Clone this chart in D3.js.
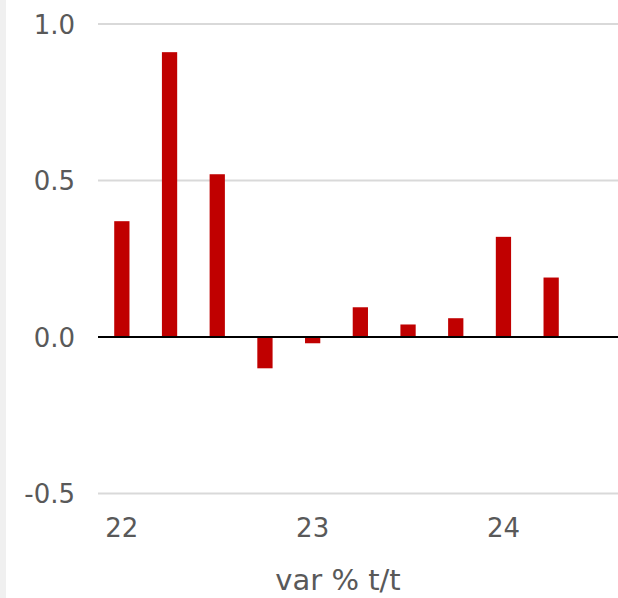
<!DOCTYPE html>
<html>
<head>
<meta charset="utf-8">
<script src="https://cdn.jsdelivr.net/npm/d3@7"></script>
<style>
  html, body { margin: 0; padding: 0; background: #fff; }
  svg { display: block; }
</style>
</head>
<body>
<div id="chart"></div>
<script>
// ---- data ----
const quarters = ["22Q1","22Q2","22Q3","22Q4","23Q1","23Q2","23Q3","23Q4","24Q1","24Q2"];
const values   = [0.37, 0.91, 0.52, -0.10, -0.02, 0.095, 0.04, 0.06, 0.32, 0.19];
const yTicks   = [-0.5, 0.0, 0.5, 1.0];
const yearLabels = [{q: "22Q1", label: "22"}, {q: "23Q1", label: "23"}, {q: "24Q1", label: "24"}];
const axisTitle = "var % t/t";

// ---- layout ----
const W = 618, H = 598;
const plotLeft = 98, plotRight = 618;
const step = 47.7;
const svg = d3.select("#chart").append("svg").attr("width", W).attr("height", H);

// left gray strip
svg.append("rect").attr("x", 0).attr("y", 0).attr("width", 6).attr("height", H).attr("fill", "#f0f0f0");

const x = d3.scaleBand()
  .domain(quarters)
  .range([plotLeft, plotLeft + step * quarters.length])
  .paddingInner(0.68)
  .paddingOuter(0.34);

const y = d3.scaleLinear().domain([-0.5, 1.0]).range([493.5, 24]);

const font = "'DejaVu Sans', Verdana, sans-serif";
const textColor = "#595959";

// gridlines
svg.append("g").selectAll("line")
  .data(yTicks.filter(d => d !== 0))
  .join("line")
  .attr("x1", plotLeft).attr("x2", plotRight)
  .attr("y1", d => y(d)).attr("y2", d => y(d))
  .attr("stroke", "#d9d9d9").attr("stroke-width", 2);

// y axis labels
const fmt = d3.format(".1f");
const yAxis = d3.axisLeft(y).tickValues(yTicks)
  .tickFormat(d => fmt(d).replace("\u2212", "-")).tickSize(0).tickPadding(0);
const gy = svg.append("g").attr("transform", "translate(75,0)").call(yAxis);
gy.select(".domain").remove();
gy.selectAll("text")
  .attr("font-family", font).attr("font-size", 26).attr("fill", textColor)
  .attr("dy", "0.35em");

// bars
svg.append("g").selectAll("rect")
  .data(quarters.map((q, i) => ({q, v: values[i]})))
  .join("rect")
  .attr("x", d => x(d.q))
  .attr("width", x.bandwidth())
  .attr("y", d => y(Math.max(0, d.v)))
  .attr("height", d => Math.abs(y(d.v) - y(0)))
  .attr("fill", "#c00000");

// zero line
svg.append("line")
  .attr("x1", plotLeft).attr("x2", plotRight)
  .attr("y1", y(0)).attr("y2", y(0))
  .attr("stroke", "#000").attr("stroke-width", 2);

// x axis labels
const xAxis = d3.axisBottom(x)
  .tickValues(yearLabels.map(d => d.q))
  .tickFormat(q => yearLabels.find(d => d.q === q).label)
  .tickSize(0).tickPadding(0);
const gx = svg.append("g").attr("transform", "translate(0,528)").call(xAxis);
gx.select(".domain").remove();
gx.selectAll("text")
  .attr("font-family", font).attr("font-size", 26).attr("fill", textColor)
  .attr("y", 0).attr("dy", "0.35em");

// axis title
svg.append("text")
  .attr("x", 338).attr("y", 590)
  .attr("text-anchor", "middle")
  .attr("font-family", font).attr("font-size", 29).attr("fill", textColor)
  .text(axisTitle);
</script>
</body>
</html>
